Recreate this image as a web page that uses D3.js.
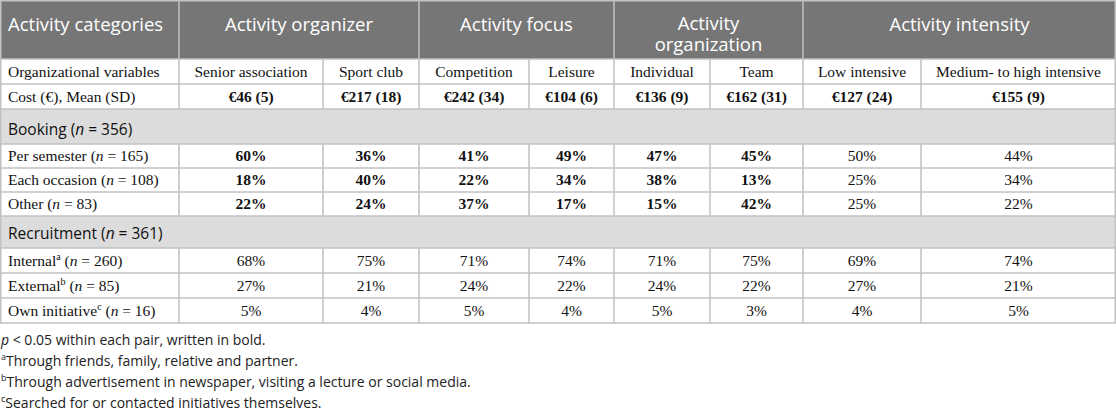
<!DOCTYPE html>
<html>
<head>
<meta charset="utf-8">
<script src="https://cdn.jsdelivr.net/npm/d3@7"></script>
<style>
  body { margin: 0; background: #fff; }
  svg { display: block; }
  .head { font-family: "Open Sans", sans-serif; font-size: 18.5px; fill: #fff; }
  .cell { font-family: "Liberation Serif", "Times New Roman", serif; font-size: 15.5px; fill: #111; }
  .section { font-family: "Open Sans", sans-serif; font-size: 15.5px; fill: #111; }
  .note { font-family: "Open Sans", sans-serif; font-size: 14px; fill: #222; }
</style>
</head>
<body>
<div id="table"></div>
<script>
// table content
var groups = ["Activity organizer", "Activity focus", "Activity organization", "Activity intensity"];
var subCategories = ["Senior association", "Sport club", "Competition", "Leisure",
  "Individual", "Team", "Low intensive", "Medium- to high intensive"];

var costMean = [46, 217, 242, 104, 136, 162, 127, 155];
var costSD = [5, 18, 34, 6, 9, 31, 24, 9];

var bookingLabels = ["Per semester", "Each occasion", "Other"];
var bookingN = [165, 108, 83];
var perSemester = [60, 36, 41, 49, 47, 45, 50, 44];
var eachOccasion = [18, 40, 22, 34, 38, 13, 25, 34];
var otherBooking = [22, 24, 37, 17, 15, 42, 25, 22];
var bookingBold = [true, true, true, true, true, true, false, false];

var recruitLabels = ["Internal", "External", "Own initiative"];
var recruitMarks = ["a", "b", "c"];
var recruitN = [260, 85, 16];
var internal = [68, 75, 71, 74, 71, 75, 69, 74];
var external = [27, 21, 24, 22, 24, 22, 27, 21];
var ownInitiative = [5, 4, 5, 4, 5, 3, 4, 5];

var footnotes = [
  "Through friends, family, relative and partner.",
  "Through advertisement in newspaper, visiting a lecture or social media.",
  "Searched for or contacted initiatives themselves."
];

// layout
var svgWidth = 1116;
var svgHeight = 409;
var colWidths = [179, 144, 96, 110, 85, 96, 93, 118, 195];
var colEdges = [0].concat(Array.from(d3.cumsum(colWidths)));

var headerH = 59;
var rowH = 25;
var lineColor = "#c2c2c2";

var svg = d3.select("#table")
  .append("svg")
  .attr("width", svgWidth)
  .attr("height", svgHeight);

var x = d3.scaleOrdinal()
  .domain(d3.range(colWidths.length))
  .range(colWidths.map(function(w, i) { return colEdges[i] + w / 2; }));

// build row list
var rows = [];
rows.push({ type: "cells", h: rowH, label: [["Organizational variables"]], values: subCategories, bold: subCategories.map(function() { return false; }) });
rows.push({ type: "cells", h: rowH, label: [["Cost (€), Mean (SD)"]],
  values: costMean.map(function(m, i) { return "€" + m + " (" + costSD[i] + ")"; }),
  bold: costMean.map(function() { return true; }) });
rows.push({ type: "section", h: 35, label: [["Booking ("], ["n", "i"], [" = 356)"]] });
[perSemester, eachOccasion, otherBooking].forEach(function(vals, i) {
  rows.push({ type: "cells", h: 24, label: [[bookingLabels[i] + " ("], ["n", "i"], [" = " + bookingN[i] + ")"]],
    values: vals.map(function(v) { return v + "%"; }), bold: bookingBold });
});
rows.push({ type: "section", h: 32, label: [["Recruitment ("], ["n", "i"], [" = 361)"]] });
[internal, external, ownInitiative].forEach(function(vals, i) {
  rows.push({ type: "cells", h: rowH, label: [[recruitLabels[i]], [recruitMarks[i], "sup"], [" ("], ["n", "i"], [" = " + recruitN[i] + ")"]],
    values: vals.map(function(v) { return v + "%"; }), bold: vals.map(function() { return false; }) });
});

var yTop = headerH;
rows.forEach(function(r) { r.y = yTop; yTop += r.h; });
var tableBottom = yTop;

// text with italic / superscript pieces
function richText(sel, parts, supSize) {
  var raised = false;
  parts.forEach(function(p) {
    var t = sel.append("tspan").text(p[0]);
    if (p[1] === "i") t.style("font-style", "italic");
    if (p[1] === "sup") {
      t.attr("dy", -6).style("font-size", supSize || "10px");
      raised = true;
    } else if (raised) {
      t.attr("dy", 6);
      raised = false;
    }
  });
}

// header
svg.append("rect")
  .attr("x", 0).attr("y", 0)
  .attr("width", svgWidth).attr("height", headerH)
  .attr("fill", "#767676");

svg.append("text")
  .attr("class", "head")
  .attr("x", 8).attr("y", 31)
  .text("Activity categories");

groups.forEach(function(g, i) {
  var c0 = 1 + i * 2;
  var cx = (colEdges[c0] + colEdges[c0 + 2]) / 2;
  var words = g === "Activity organization" ? ["Activity", "organization"] : [g];
  var t = svg.append("text")
    .attr("class", "head")
    .attr("text-anchor", "middle")
    .attr("y", words.length > 1 ? 30 : 31);
  words.forEach(function(w, k) {
    t.append("tspan").attr("x", cx).attr("dy", k === 0 ? 0 : 21).text(w);
  });
});

// body rows
var rowG = svg.selectAll("g.row")
  .data(rows)
  .enter()
  .append("g")
  .attr("class", "row")
  .attr("transform", function(d) { return "translate(0," + d.y + ")"; });

rowG.filter(function(d) { return d.type === "section"; })
  .each(function(d) {
    var g = d3.select(this);
    g.append("rect")
      .attr("width", svgWidth).attr("height", d.h)
      .attr("fill", "#dcdcdc");
    var t = g.append("text").attr("class", "section").attr("x", 8).attr("y", d.h - 9);
    richText(t, d.label);
  });

rowG.filter(function(d) { return d.type === "cells"; })
  .each(function(d) {
    var g = d3.select(this);
    var t = g.append("text").attr("class", "cell").attr("x", 8).attr("y", d.h - 7);
    richText(t, d.label);
    g.selectAll("text.val")
      .data(d.values)
      .enter()
      .append("text")
      .attr("class", "cell val")
      .attr("text-anchor", "middle")
      .attr("x", function(v, i) { return x(i + 1); })
      .attr("y", d.h - 7)
      .style("font-weight", function(v, i) { return d.bold[i] ? "bold" : "normal"; })
      .text(function(v) { return v; });
  });

// grid lines
var grid = svg.append("g")
  .attr("stroke", lineColor)
  .attr("stroke-width", 1.5);

// horizontals
grid.selectAll("line.h")
  .data([0.75, headerH].concat(rows.map(function(r) { return r.y + r.h; })))
  .enter()
  .append("line")
  .attr("x1", 0).attr("x2", svgWidth)
  .attr("y1", function(d) { return d; })
  .attr("y2", function(d) { return d; });

// header verticals
grid.selectAll("line.hv")
  .data([1, 3, 5, 7])
  .enter()
  .append("line")
  .attr("x1", function(c) { return colEdges[c]; })
  .attr("x2", function(c) { return colEdges[c]; })
  .attr("y1", 0).attr("y2", headerH);

// body verticals
rows.filter(function(r) { return r.type === "cells"; }).forEach(function(r) {
  grid.selectAll(null)
    .data(d3.range(1, colWidths.length))
    .enter()
    .append("line")
    .attr("x1", function(c) { return colEdges[c]; })
    .attr("x2", function(c) { return colEdges[c]; })
    .attr("y1", r.y).attr("y2", r.y + r.h);
});

// outer sides
grid.selectAll("line.side")
  .data([0.75, svgWidth - 0.75])
  .enter()
  .append("line")
  .attr("x1", function(d) { return d; })
  .attr("x2", function(d) { return d; })
  .attr("y1", 0).attr("y2", tableBottom);

// footnotes
var notes = svg.append("g");
var n0 = notes.append("text").attr("class", "note").attr("x", 1).attr("y", 345);
richText(n0, [["p", "i"], [" < 0.05 within each pair, written in bold."]]);

footnotes.forEach(function(f, i) {
  var t = notes.append("text").attr("class", "note").attr("x", 1).attr("y", 366 + i * 21);
  richText(t, [[recruitMarks[i], "sup"], [f]], "9px");
});
</script>
</body>
</html>
